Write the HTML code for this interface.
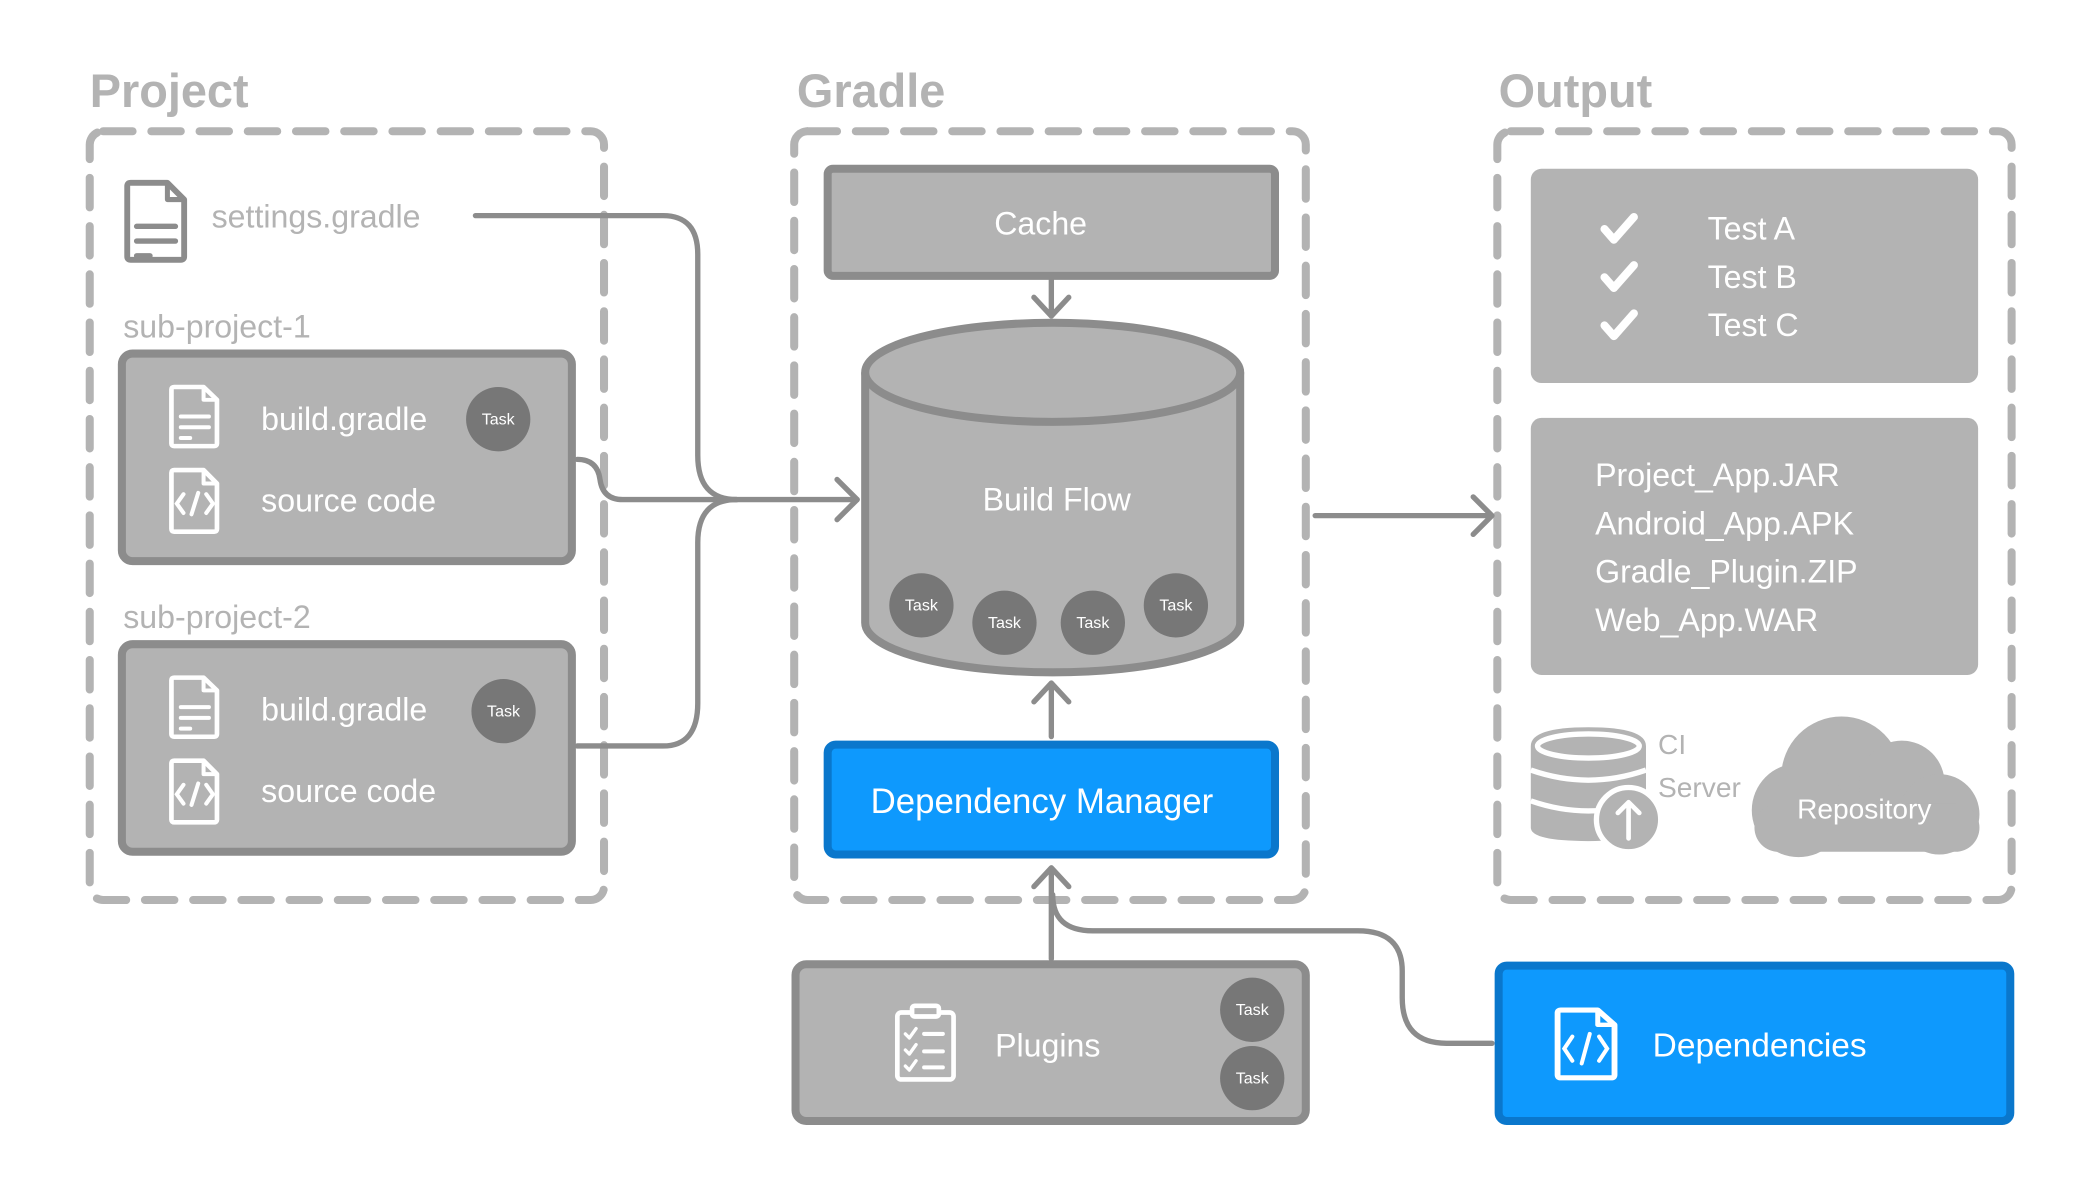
<!DOCTYPE html>
<html><head><meta charset="utf-8"><style>
html,body{margin:0;padding:0;background:#fff;width:2100px;height:1200px;overflow:hidden}
svg{display:block}
text{font-family:"Liberation Sans","DejaVu Sans",sans-serif}
</style></head><body>
<svg width="2100" height="1200" viewBox="0 0 1568 896" xmlns="http://www.w3.org/2000/svg">
<defs>
<g id="doc">
 <path d="M2 2 H24 L34 12 V46 Q34 48 32 48 H2 Q0 48 0 46 V4 Q0 2 2 2Z" fill="none" stroke-width="3.5" stroke-linejoin="round"/>
 <path d="M24 2 V12 H34" fill="none" stroke-width="3" stroke-linejoin="round"/>
</g>
</defs>
<!-- titles -->
<g font-size="35" font-weight="bold" fill="#b3b3b3">
<text x="67" y="80">Project</text>
<text x="595" y="80">Gradle</text>
<text x="1119" y="80">Output</text>
</g>
<!-- dashed containers -->
<g fill="none" stroke="#b3b3b3" stroke-width="6" stroke-dasharray="22 14" stroke-linecap="round">
<rect x="67" y="98" width="384" height="574" rx="10"/>
<rect x="593" y="98" width="382" height="574" rx="10"/>
<rect x="1118" y="98" width="384" height="574" rx="10"/>
</g>
<!-- connectors -->
<g fill="none" stroke="#8c8c8c" stroke-width="4" stroke-linecap="round" stroke-linejoin="round">
<path d="M355 161 H495 Q521 161 521 190 V340 Q521 373 550 373"/>
<path d="M431 343 Q446 343 448 358 Q450 373 465 373 H640"/>
<path d="M431 557 H495 Q521 557 521 525 V405 Q521 373 550 373"/>
<path d="M625 358 L640 373 L625 388"/>
<path d="M785 209 V236 M772 222 L785 236 L798 222"/>
<path d="M785 550 V510 M772 524 L785 510 L798 524"/>
<path d="M785 716 V648 M772 662 L785 648 L798 662"/>
<path d="M1114 779 H1080 Q1047 779 1047 745 V725 Q1047 695 1014 695 H816 Q786 695 786 668"/>
<path d="M982 385 H1113 M1100 371 L1114 385 L1100 399"/>
</g>
<!-- project -->
<g stroke="#8c8c8c" transform="translate(95,134) scale(1.25)"><use href="#doc"/></g>
<g stroke="#8c8c8c" stroke-width="4" stroke-linecap="round"><path d="M102 169 H131 M102 180 H131 M102 191 H112"/></g>
<text x="158" y="170" font-size="24" fill="#b3b3b3">settings.gradle</text>
<text x="92" y="252" font-size="24" fill="#b3b3b3">sub-project-1</text>
<text x="92" y="469" font-size="24" fill="#b3b3b3">sub-project-2</text>
<g fill="#b3b3b3" stroke="#8c8c8c" stroke-width="6">
<rect x="91" y="264" width="336" height="155" rx="8"/>
<rect x="91" y="481" width="336" height="155" rx="8"/>
<rect x="618" y="126" width="334" height="80" rx="4"/>
<rect x="594" y="720" width="381" height="117" rx="8"/>
</g>
<!-- sub project contents -->
<g stroke="#fff">
<g transform="translate(128,287) scale(1,0.96)"><use href="#doc"/></g>
<g transform="translate(128,349)"><use href="#doc"/></g>
<g transform="translate(128,504) scale(1,0.96)"><use href="#doc"/></g>
<g transform="translate(128,566)"><use href="#doc"/></g>
</g>
<g stroke="#fff" stroke-width="3" stroke-linecap="round" fill="none">
<path d="M135 311 H156 M135 319 H156 M135 327 H142"/>
<path d="M135 528 H156 M135 536 H156 M135 544 H142"/>
<path d="M140 368 L135 375 L140 382 M157 368 L162 375 L157 382 M151 367 L146 383" transform="translate(-3,1)"/>
<path d="M140 585 L135 592 L140 599 M157 585 L162 592 L157 599 M151 584 L146 600" transform="translate(-3,1)"/>
</g>
<g font-size="24" fill="#fff">
<text x="195" y="321">build.gradle</text>
<text x="195" y="382">source code</text>
<text x="195" y="538">build.gradle</text>
<text x="195" y="599">source code</text>
</g>
<g fill="#777"><circle cx="372" cy="313" r="24"/><circle cx="376" cy="531" r="24"/></g>
<g font-size="12" fill="#fff" text-anchor="middle"><text x="372" y="317">Task</text><text x="376" y="535">Task</text></g>
<!-- cache -->
<text x="777" y="175" font-size="24" fill="#fff" text-anchor="middle">Cache</text>
<!-- cylinder -->
<path d="M646 278 V465 A140 37 0 0 0 926 465 V278" fill="#b3b3b3" stroke="#8c8c8c" stroke-width="6"/>
<ellipse cx="786" cy="278" rx="140" ry="37" fill="#b3b3b3" stroke="#8c8c8c" stroke-width="6"/>
<text x="789" y="381" font-size="24" fill="#fff" text-anchor="middle">Build Flow</text>
<g fill="#777"><circle cx="688" cy="452" r="24"/><circle cx="750" cy="465" r="24"/><circle cx="816" cy="465" r="24"/><circle cx="878" cy="452" r="24"/></g>
<g font-size="12" fill="#fff" text-anchor="middle"><text x="688" y="456">Task</text><text x="750" y="469">Task</text><text x="816" y="469">Task</text><text x="878" y="456">Task</text></g>
<!-- dependency manager -->
<rect x="618" y="556" width="334" height="82" rx="6" fill="#0e99fd" stroke="#0a77cc" stroke-width="6"/>
<text x="778" y="607" font-size="26" fill="#fff" text-anchor="middle">Dependency Manager</text>
<!-- plugins -->
<g fill="none" stroke="#fff" stroke-width="3.5" stroke-linejoin="round" stroke-linecap="round">
<rect x="670" y="756" width="42" height="50" rx="3"/>
<rect x="681" y="751" width="20" height="8" rx="2" fill="#b3b3b3"/>
<path d="M676 772 L679 775 L684 768 M676 784 L679 787 L684 780 M676 796 L679 799 L684 792" stroke-width="2.5"/>
<path d="M690 772 H704 M690 785 H704 M690 797 H704" stroke-width="3"/>
</g>
<text x="743" y="789" font-size="24" fill="#fff">Plugins</text>
<g fill="#777"><circle cx="935" cy="754" r="24"/><circle cx="935" cy="805" r="24"/></g>
<g font-size="12" fill="#fff" text-anchor="middle"><text x="935" y="758">Task</text><text x="935" y="809">Task</text></g>
<!-- dependencies -->
<rect x="1119" y="721" width="382" height="116" rx="6" fill="#0e99fd" stroke="#0a77cc" stroke-width="6"/>
<g stroke="#fff" transform="translate(1163,752) scale(1.25,1.1)"><use href="#doc"/></g>
<g stroke="#fff" stroke-width="3" stroke-linecap="round" fill="none"><path d="M1174 774 L1168 783 L1174 792 M1194 774 L1200 783 L1194 792 M1187 772 L1181 794"/></g>
<text x="1234" y="789" font-size="25" fill="#fff">Dependencies</text>
<!-- output -->
<rect x="1143" y="126" width="334" height="160" rx="8" fill="#b3b3b3"/>
<rect x="1143" y="312" width="334" height="192" rx="8" fill="#b3b3b3"/>
<g fill="none" stroke="#fff" stroke-width="6" stroke-linecap="round" stroke-linejoin="round">
<path d="M1198 171 L1205 179 L1220 162"/>
<path d="M1198 207 L1205 215 L1220 198"/>
<path d="M1198 243 L1205 251 L1220 234"/>
</g>
<g font-size="24" fill="#fff">
<text x="1275" y="179">Test A</text>
<text x="1275" y="215">Test B</text>
<text x="1275" y="251">Test C</text>
<text x="1191" y="363">Project_App.JAR</text>
<text x="1191" y="399">Android_App.APK</text>
<text x="1191" y="435">Gradle_Plugin.ZIP</text>
<text x="1191" y="471">Web_App.WAR</text>
</g>
<!-- CI server -->
<g fill="#b3b3b3">
<path d="M1143 557 Q1143 543 1186 543 Q1229 543 1229 557 V618 Q1229 628 1186 628 Q1143 628 1143 618Z"/>
</g>
<g fill="none" stroke="#fff" stroke-width="4">
<ellipse cx="1186" cy="557" rx="38" ry="9"/>
<path d="M1143 575 Q1186 590 1229 575 M1143 598 Q1186 613 1229 598"/>
</g>
<circle cx="1216" cy="612" r="24" fill="#b3b3b3" stroke="#fff" stroke-width="4"/>
<path d="M1216 626 V599 M1208 607 L1216 599 L1224 607" fill="none" stroke="#fff" stroke-width="3.5" stroke-linecap="round" stroke-linejoin="round"/>
<text x="1238" y="563" font-size="21" fill="#b3b3b3">CI</text>
<text x="1238" y="595" font-size="21" fill="#b3b3b3">Server</text>
<!-- cloud -->
<g fill="#b3b3b3">
<circle cx="1375" cy="580" r="45"/>
<circle cx="1420" cy="585" r="32"/>
<circle cx="1343" cy="605" r="35"/>
<circle cx="1448" cy="608" r="30"/>
<rect x="1310" y="600" width="168" height="36" rx="18"/>
</g>
<text x="1392" y="611" font-size="21" fill="#fff" text-anchor="middle">Repository</text>
</svg>
</body></html>
